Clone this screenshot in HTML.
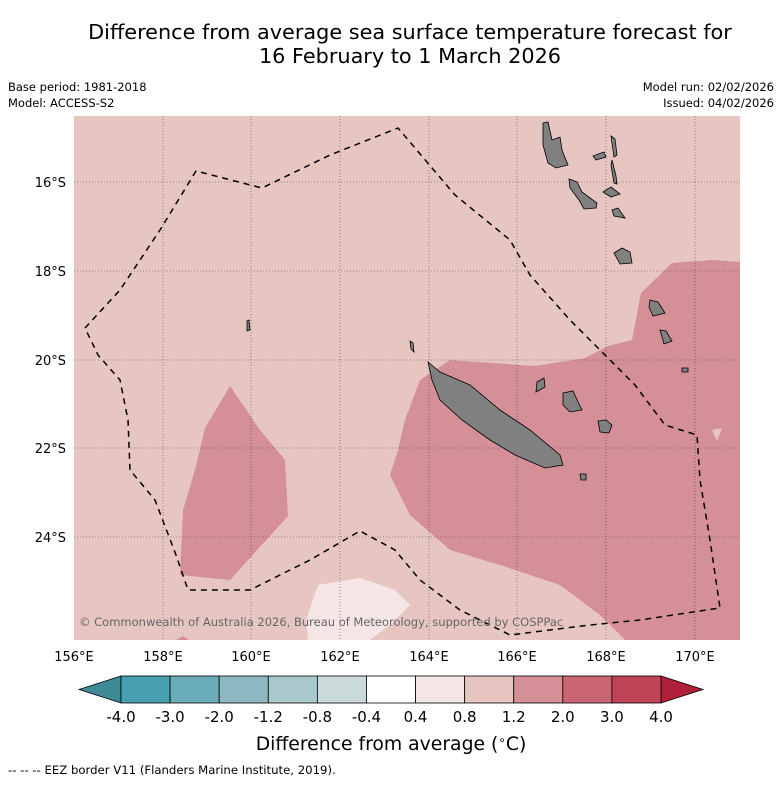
<!DOCTYPE html>
<html><head><meta charset="utf-8">
<style>
body{margin:0;background:#fff;font-family:"Liberation Sans","DejaVu Sans",sans-serif;}
svg text{font-family:"DejaVu Sans","Liberation Sans",sans-serif;}
</style></head>
<body>
<svg width="781" height="781" viewBox="0 0 781 781" xmlns="http://www.w3.org/2000/svg">
<text x="410" y="39" font-size="20.8" text-anchor="middle">Difference from average sea surface temperature forecast for</text>
<text x="410" y="63" font-size="20.8" text-anchor="middle">16 February to 1 March 2026</text>
<text x="8" y="91" font-size="11.5">Base period: 1981-2018</text>
<text x="8" y="107" font-size="11.5">Model: ACCESS-S2</text>
<text x="774" y="91" font-size="11.5" text-anchor="end">Model run: 02/02/2026</text>
<text x="774" y="107" font-size="11.5" text-anchor="end">Issued: 04/02/2026</text>

<g>
<clipPath id="mc"><rect x="74" y="116" width="666" height="524"/></clipPath>
<g clip-path="url(#mc)">
<rect x="74" y="116" width="666" height="524" fill="#e7c6c1"/>
<path fill="#d58f96" d="M740,262 L712,260 L672,263 L641,293 L632,340 L608,346 L585,358 L535,366 L450,360 L420,380 L405,420 L398,450 L390,475 L410,515 L450,550 L500,565 L560,585 L600,615 L625,640 L740,640Z"/>
<path fill="#e7c6c1" d="M712,430 L722,428 L717,441Z"/>
<path fill="#d58f96" d="M230,386 L205,428 L195,470 L183,510 L180,575 L230,580 L288,516 L285,460 L260,430Z"/>
<path fill="#d58f96" d="M176,640 L183,636 L189,640Z"/>
<path fill="#f5e6e5" d="M318,585 L360,578 L395,590 L410,605 L390,625 L370,640 L308,640 L306,620Z"/>
<g stroke="#444" stroke-width="0.6" stroke-dasharray="1,2">
<line x1="163" y1="116" x2="163" y2="640"/><line x1="251" y1="116" x2="251" y2="640"/><line x1="340" y1="116" x2="340" y2="640"/><line x1="429" y1="116" x2="429" y2="640"/><line x1="517" y1="116" x2="517" y2="640"/><line x1="606" y1="116" x2="606" y2="640"/><line x1="695" y1="116" x2="695" y2="640"/>
<line x1="74" y1="182" x2="740" y2="182"/><line x1="74" y1="271" x2="740" y2="271"/><line x1="74" y1="360" x2="740" y2="360"/><line x1="74" y1="448" x2="740" y2="448"/><line x1="74" y1="537" x2="740" y2="537"/>
</g>
<g fill="#808080" stroke="#000" stroke-width="0.8">
<path d="M428,362 L440,372 L470,385 L500,410 L530,430 L560,455 L563,465 L545,468 L515,455 L490,440 L462,420 L440,400 L432,380Z"/>
<path d="M543,123 L548,122 L552,140 L560,137 L562,150 L568,165 L556,168 L548,163 L543,145Z"/>
<path d="M593,156 L604,152 L606,157 L596,160Z"/>
<path d="M611,136 L615,139 L617,155 L614,157Z"/>
<path d="M612,160 L616,176 L617,184 L614,183 L611,165Z"/>
<path d="M569,179 L577,182 L582,192 L597,203 L596,208 L584,209 L579,200 L570,188Z"/>
<path d="M603,192 L611,187 L620,194 L611,197Z"/>
<path d="M612,210 L618,208 L625,218 L614,216Z"/>
<path d="M614,253 L622,248 L630,252 L632,263 L620,264Z"/>
<path d="M650,300 L658,302 L665,313 L653,316 L649,307Z"/>
<path d="M660,330 L666,331 L672,341 L664,344Z"/>
<path d="M682,368 L688,368 L688,372 L682,372Z"/>
<path d="M563,393 L573,391 L578,402 L582,410 L570,412 L563,405Z"/>
<path d="M598,421 L606,420 L612,425 L609,433 L600,432Z"/>
<path d="M580,474 L586,474 L586,480 L581,480Z"/>
<path d="M537,382 L544,378 L545,387 L536,392Z"/>
<path d="M247,321 L249,320 L250,330 L247,331Z"/>
<path d="M410,341 L413,343 L414,352 L411,349Z"/>
</g>
<path fill="none" stroke="#000" stroke-width="1.5" stroke-dasharray="6,5" d="M85,328 L120,290 L160,230 L196,171 L262,188 L330,155 L398,128 L455,195 L510,240 L530,275 L570,320 L610,360 L635,385 L665,425 L697,435 L700,480 L710,540 L720,608 L640,620 L590,625 L510,635 L460,610 L420,580 L395,550 L360,531 L310,560 L250,590 L188,590 L176,555 L155,500 L130,470 L128,420 L120,380 L98,355 Z"/>
<text x="79" y="626" font-size="11.5" fill="#666">© Commonwealth of Australia 2026, Bureau of Meteorology, supported by COSPPac</text>
</g>
</g>
<g font-size="13">
<text x="74" y="661" text-anchor="middle">156°E</text><text x="163" y="661" text-anchor="middle">158°E</text><text x="251" y="661" text-anchor="middle">160°E</text><text x="340" y="661" text-anchor="middle">162°E</text><text x="429" y="661" text-anchor="middle">164°E</text><text x="517" y="661" text-anchor="middle">166°E</text><text x="606" y="661" text-anchor="middle">168°E</text><text x="695" y="661" text-anchor="middle">170°E</text>
</g>
<g font-size="13" text-anchor="end">
<text x="66" y="187">16°S</text><text x="66" y="276">18°S</text><text x="66" y="365">20°S</text><text x="66" y="453">22°S</text><text x="66" y="542">24°S</text>
</g>
<g id="cbar"></g>
<text x="391" y="750" font-size="18.8" text-anchor="middle">Difference from average (<tspan font-size="12" dy="-6">∘</tspan><tspan dy="6">C)</tspan></text>
<text x="8" y="774" font-size="11.7">--  --  -- EEZ border V11 (Flanders Marine Institute, 2019).</text>
</svg>
<script>
const tickLabels=["-4.0","-3.0","-2.0","-1.2","-0.8","-0.4","0.4","0.8","1.2","2.0","3.0","4.0"];
const binColors=["#47a0b0","#6aacb8","#8db8c2","#a9c8cc","#cadada","#ffffff","#f5e6e5","#e7c6c1","#d58f96","#ca6673","#be4455"];
const extendColors=["#3e8a96","#b0203a"];
const NS="http://www.w3.org/2000/svg";
const g=document.getElementById('cbar');
const x0=121,x1=661,y0=676,h=27,w=(x1-x0)/binColors.length;
function mk(t,a){const e=document.createElementNS(NS,t);for(const k in a)e.setAttribute(k,a[k]);g.appendChild(e);return e;}
const lt=mk('path',{d:`M${x0},${y0} L79,${y0+h/2} L${x0},${y0+h}Z`,fill:extendColors[0],stroke:'#000','stroke-width':0.8});


const rt=mk('path',{d:`M${x1},${y0} L703,${y0+h/2} L${x1},${y0+h}Z`,fill:extendColors[1],stroke:'#000','stroke-width':0.8});


binColors.forEach((c,i)=>{
 const r=mk('rect',{x:x0+i*w,y:y0,width:w,height:h,fill:c,stroke:'#000','stroke-width':0.8});
 
 
});
tickLabels.forEach((t,i)=>{
 const e=mk('text',{x:x0+i*w,y:722,'font-size':15,'text-anchor':'middle'});
 e.textContent=t;
 
 
});
</script>
</body></html>
